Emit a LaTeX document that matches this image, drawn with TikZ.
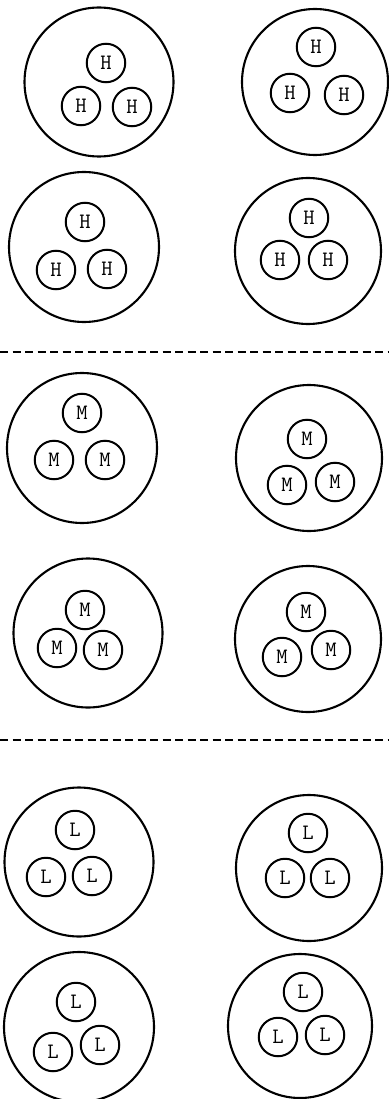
\documentclass[tikz,border=0pt]{standalone}
\usepackage{tikz}

\begin{document}
\begin{tikzpicture}[x=1pt,y=-1pt,
  grain/.style={circle,draw,line width=2.1pt,inner sep=0pt},
  atom/.style={circle,draw,line width=2pt,minimum size=38.5pt,inner sep=0pt,
    font=\ttfamily\fontsize{22}{22}\selectfont},
  sep/.style={line width=2.2pt,dash pattern=on 8pt off 4.5pt}]
  \useasboundingbox (0,0) rectangle (388,1099);
  % grain no./centre/diameter/letter/top, left and right inner circles
  \foreach \n/\gx/\gy/\gd/\lbl/\ax/\ay/\bx/\by/\ccx/\ccy in {
      1/99/82/149/H/106/63/81/106/132/107,
      2/315/82/146/H/316/47/290/93/344/95,
      3/84/247/150/H/85/222/56/270/107/269,
      4/308/251/146/H/309/218/280/260/328/260,
      5/82/448/150/M/82/413/54/460/105/460,
      6/309/458/146/M/307/439/287/485/335/482,
      7/88/633/149/M/85/610/57/648/103/650,
      8/308/639/146/M/306/612/282/657/331/650,
      9/79/862/149/L/75/830/46/877/92/876,
      10/309/868/146/L/308/833/285/878/330/878,
      11/79/1027/150/L/76/1002/53/1052/100/1045,
      12/300/1026/144/L/303/992/278/1037/325/1035}{
    \node[grain,minimum size=\gd pt] (g\n) at (\gx,\gy) {};
    \node[atom] (g\n t) at (\ax,\ay) {\lbl};
    \node[atom] (g\n l) at (\bx,\by) {\lbl};
    \node[atom] (g\n r) at (\ccx,\ccy) {\lbl};
  }
  % group borders
  \coordinate (s1w) at (0,352);  \coordinate (s1e) at (388,352);
  \coordinate (s2w) at (0,740);  \coordinate (s2e) at (388,740);
  \draw[sep] (s1w) -- (s1e);
  \draw[sep] (s2w) -- (s2e);
\end{tikzpicture}
\end{document}
